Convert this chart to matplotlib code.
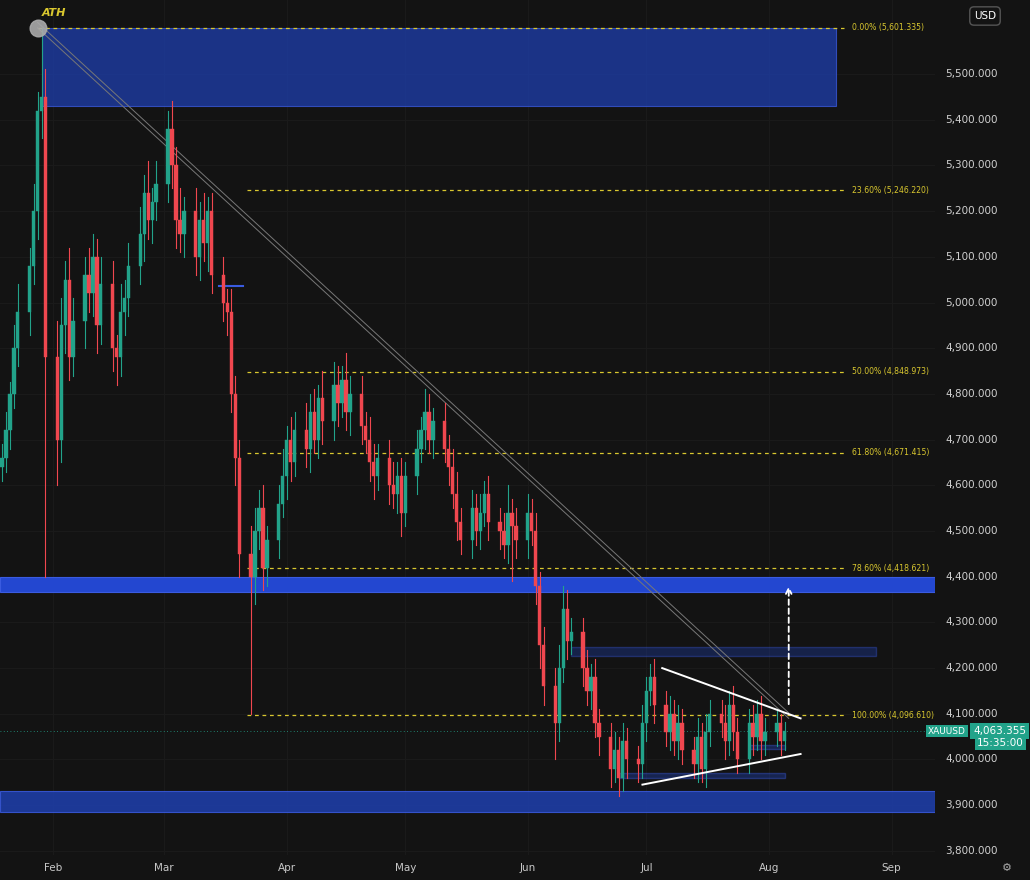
import matplotlib
matplotlib.use("Agg")
import matplotlib.pyplot as plt
import matplotlib.dates as mdates
from matplotlib.patches import Rectangle
import numpy as np
import pandas as pd

# daily closes, weekdays from 2026-01-19
closes = [
    4660, 4720, 4800, 4900, 4980,
    5080, 5200, 5420, 5450, 4880,
    4700, 4950, 5050, 4880, 4960,
    5060, 5020, 5100, 4950, 5040,
    4900, 4880, 4980, 5010, 5080,
    5150, 5240, 5180, 5220, 5260,
    5380, 5300, 5180, 5150, 5200,
    5100, 5180, 5130, 5200, 5060,
    5000, 4980, 4800, 4660, 4450,
    4400, 4500, 4550, 4420, 4480,
    4560, 4620, 4700, 4650, 4720,
    4680, 4760, 4700, 4790, 4740,
    4820, 4780, 4830, 4760, 4800,
    4730, 4700, 4650, 4620, 4660,
    4600, 4580, 4620, 4540, 4620,
    4680, 4720, 4760, 4700, 4740,
    4680, 4640, 4580, 4520, 4480,
    4550, 4500, 4540, 4580, 4520,
    4500, 4470, 4540, 4510, 4480,
    4540, 4500, 4380, 4250, 4160,
    4080, 4200, 4330, 4260, 4280,
    4200, 4150, 4180, 4080, 4050,
    3980, 4020, 3960, 4040, 4000,
    3990, 4080, 4150, 4180, 4120,
    4060, 4100, 4040, 4080, 4020,
    3990, 4050, 3980, 4060, 4100,
    4080, 4040, 4120, 4060, 4000,
    4080, 4050, 4100, 4040, 4060,
    4080, 4040, 4063,
]
first_open = 4640
wick_up = [
    30, 40, 25, 50, 60,
    40, 60, 40, 150, 60,
    80, 60, 40, 70, 50,
    40, 60, 50, 40, 60,
    50, 30, 60, 40, 50,
    60, 40, 70, 30, 50,
    40, 60, 40, 70, 30,
    50, 40, 60, 30, 40,
    40, 30, 50, 40, 40,
    60, 50, 40, 50, 30,
    40, 60, 30, 50, 40,
    60, 40, 50, 30, 60,
    50, 40, 30, 60, 40,
    40, 30, 50, 40, 30,
    40, 50, 30, 40, 30,
    40, 30, 50, 40, 30,
    40, 30, 40, 50, 30,
    40, 30, 40, 30, 40,
    30, 40, 60, 30, 40,
    40, 30, 40, 30, 40,
    40, 50, 50, 40, 30,
    30, 40, 30, 40, 30,
    30, 40, 30, 40, 30,
    30, 40, 30, 30, 40,
    30, 40, 30, 40, 30,
    30, 40, 30, 40, 30,
    30, 40, 30, 40, 30,
    30, 40, 30, 40, 30,
    30, 20, 20,
]
wick_dn = [
    30, 30, 40, 30, 40,
    50, 40, 60, 60, 480,
    100, 50, 60, 50, 40,
    60, 40, 50, 60, 40,
    50, 60, 40, 50, 40,
    40, 60, 40, 50, 40,
    40, 50, 60, 40, 50,
    40, 50, 40, 60, 40,
    40, 50, 40, 60, 50,
    300, 60, 40, 50, 40,
    40, 30, 50, 40, 30,
    40, 50, 30, 40, 50,
    40, 50, 30, 40, 50,
    40, 30, 40, 50, 30,
    40, 30, 40, 50, 30,
    40, 30, 40, 30, 40,
    30, 40, 30, 40, 30,
    40, 30, 40, 30, 40,
    40, 30, 40, 120, 40,
    40, 30, 40, 50, 40,
    80, 40, 30, 40, 30,
    40, 30, 40, 30, 40,
    40, 30, 40, 30, 40,
    40, 30, 40, 30, 40,
    30, 40, 30, 40, 30,
    30, 40, 30, 40, 30,
    30, 40, 30, 40, 30,
    30, 40, 30, 40, 30,
    30, 30, 20,
]

fib_pct = ["0.00%", "23.60%", "50.00%", "61.80%", "78.60%", "100.00%"]
fib_val = [5601.335, 5246.220, 4848.973, 4671.415, 4418.621, 4096.610]
last_price = 4063.355
month_labels = ["Feb", "Mar", "Apr", "May", "Jun", "Jul", "Aug", "Sep"]
y_ticks = [3800, 3900, 4000, 4100, 4200, 4300, 4400, 4500, 4600, 4700,
           4800, 4900, 5000, 5100, 5200, 5300, 5400, 5500]

BG = "#131313"
UP = "#22a38a"
DN = "#f0474f"
BLUE = "#1e3fae"
FIB = "#d9c72f"

dates = pd.bdate_range("2026-01-19", periods=len(closes))
x = mdates.date2num(dates)
opens = [first_open] + closes[:-1]

fig = plt.figure(figsize=(10.3, 8.8), dpi=100, facecolor=BG)
ax = fig.add_axes([0, 25 / 880, 935 / 1030, 855 / 880], facecolor=BG)

d = lambda s: mdates.date2num(pd.Timestamp(s))
x0, x1 = d("2026-01-18 12:00"), d("2026-09-12")
ax.set_xlim(x0, x1)
ax.set_ylim(3791, 5662)

for yv in y_ticks:
    ax.axhline(yv, color="#1a1a1a", lw=0.8, zorder=0)
for i in range(len(month_labels)):
    ax.axvline(d(f"2026-{i + 2:02d}-01"), color="#1a1a1a", lw=0.8, zorder=0)

# zones
ax.add_patch(Rectangle((d("2026-01-29"), 5430), d("2026-08-18") - d("2026-01-29"), 170,
                       facecolor=BLUE, alpha=0.75, edgecolor="#3a5be0", lw=0.8, zorder=1))
ax.add_patch(Rectangle((x0, 4367), x1 - x0, 33, facecolor="#2347d0", edgecolor="#3a5be0", lw=0.8, zorder=1))
ax.add_patch(Rectangle((x0, 3886), x1 - x0, 46, facecolor=BLUE, alpha=0.85, edgecolor="#3a5be0", lw=0.8, zorder=1))
ax.add_patch(Rectangle((d("2026-06-12"), 4226), d("2026-08-28") - d("2026-06-12"), 20,
                       facecolor=BLUE, alpha=0.35, edgecolor="#3a5be0", lw=1, zorder=1))
ax.add_patch(Rectangle((d("2026-06-24"), 3960), d("2026-08-05") - d("2026-06-24"), 10,
                       facecolor=BLUE, alpha=0.4, edgecolor="#3a5be0", lw=1, zorder=1))
ax.add_patch(Rectangle((d("2026-07-27"), 4022), d("2026-08-05") - d("2026-07-27"), 9,
                       facecolor=BLUE, alpha=0.4, edgecolor="#3a5be0", lw=1, zorder=1))
ax.plot([d("2026-03-15"), d("2026-03-21")], [5036, 5036], color="#3a5be0", lw=1.5, zorder=1)

# fib levels
for i, (p, v) in enumerate(zip(fib_pct, fib_val)):
    start = d("2026-01-28") if i == 0 else d("2026-03-22")
    ax.plot([start, d("2026-08-20")], [v, v], color=FIB, lw=0.9, ls=(0, (3, 3)), zorder=2)
    ax.text(d("2026-08-22"), v, f"{p} ({v:,.3f})", color=FIB, fontsize=5.6,
            va="center", ha="left", zorder=6)

# downtrend channel
for off in (0, 12):
    ax.plot([d("2026-01-28"), d("2026-08-06")], [5601 + off, 4090 + off],
            color="#777777", lw=0.7, zorder=2)

# candles
w = 0.85
for xi, o, c, wu, wd in zip(x, opens, closes, wick_up, wick_dn):
    col = UP if c >= o else DN
    hi, lo = max(o, c) + wu, min(o, c) - wd
    ax.plot([xi, xi], [lo, hi], color=col, lw=0.8, zorder=3)
    ax.add_patch(Rectangle((xi - w / 2, min(o, c)), w, max(abs(c - o), 3),
                           facecolor=col, edgecolor=col, lw=0.3, zorder=4))

# triangle
ax.plot([d("2026-07-05"), d("2026-08-09")], [4200, 4090], color="white", lw=1.4, zorder=5)
ax.plot([d("2026-06-30"), d("2026-08-09")], [3945, 4012], color="white", lw=1.4, zorder=5)
ax.annotate("", xy=(d("2026-08-06"), 4385), xytext=(d("2026-08-06"), 4115),
            arrowprops=dict(arrowstyle="->", color="white", lw=1.3, ls=(0, (3, 2))), zorder=6)

# ATH
ax.plot(d("2026-01-28"), 5601, "o", ms=12, color="#aaaaaa", alpha=0.9, zorder=6)
ax.text(d("2026-01-29"), 5627, "ATH", color=FIB, fontsize=8, style="italic", fontweight="bold", zorder=6)

ax.axhline(last_price, color=UP, lw=0.6, ls=(0, (1, 3)), zorder=2)

# axes styling
ax.set_yticks([])
ax.set_xticks([d(f"2026-{i + 2:02d}-01") for i in range(len(month_labels))])
ax.set_xticklabels(month_labels, color="#c8c8c8", fontsize=7.5)
ax.tick_params(axis="x", length=0, pad=6)
for s in ax.spines.values():
    s.set_visible(False)

for yv in y_ticks:
    ax.text(1.0 + 10 / 935, yv, f"{yv:,.3f}", transform=ax.get_yaxis_transform(),
            color="#d0d0d0", fontsize=7.5, va="center", ha="left", clip_on=False)

# price labels
yfig = 1 - 731 / 880
fig.text(928 / 1030, yfig, "XAUUSD", color="white", fontsize=6.5, va="center", ha="left",
         bbox=dict(boxstyle="square,pad=0.2", facecolor=UP, edgecolor="none"))
fig.text(973 / 1030, yfig, f"{last_price:,.3f}", color="white", fontsize=7.5, va="center",
         ha="left", bbox=dict(boxstyle="square,pad=0.25", facecolor=UP, edgecolor="none"))
fig.text(977 / 1030, yfig - 12 / 880, "15:35:00", color="white", fontsize=7.5, va="center",
         ha="left", bbox=dict(boxstyle="square,pad=0.2", facecolor=UP, edgecolor="none"))

fig.text(985 / 1030, 1 - 16 / 880, "USD", color="white", fontsize=7.5, va="center", ha="center",
         bbox=dict(boxstyle="round,pad=0.4", facecolor=BG, edgecolor="#555555"))
fig.text(1007 / 1030, 1 - 868 / 880, "⚙", color="#aaaaaa", fontsize=8, va="center", ha="center")

fig.savefig("out.png", dpi=100, facecolor=BG)
